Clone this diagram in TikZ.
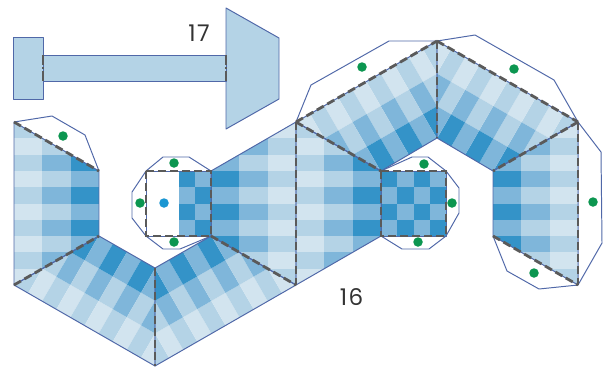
\documentclass[tikz,border=0pt]{standalone}
\usepackage{fontspec}
\setmainfont{Poppins}
\definecolor{cc0}{HTML}{D2E4EF}
\definecolor{cc1}{HTML}{B4D3E6}
\definecolor{cc2}{HTML}{7FB6DA}
\definecolor{cc3}{HTML}{3493C8}
\definecolor{edgeblue}{HTML}{5068A8}
\definecolor{foldgray}{HTML}{5A5A5A}
\definecolor{dotgreen}{HTML}{0C9650}
\definecolor{dotblue}{HTML}{1A96D2}
\tikzset{
  outline/.style={draw=edgeblue,line width=0.98pt,line join=round},
  fold/.style={draw=foldgray,line width=2.8pt,dash pattern=on 8pt off 4pt},
  shortfold/.style={draw=foldgray,line width=2.2pt,dash pattern=on 10pt off 2pt on 2pt off 2pt on 10pt},
  gluedot/.style={circle,fill=dotgreen,inner sep=0pt,minimum size=9.5pt},
  centerdot/.style={circle,fill=dotblue,inner sep=0pt,minimum size=9.5pt},
  numlabel/.style={inner sep=0pt,text=black!80,font=\fontsize{23}{26}\selectfont\addfontfeatures{LetterSpace=6}}
}
% origin x,y ; column vector ; row vector
\newcommand{\facegrid}[6]{%
  \foreach \i in {0,1,2} \foreach \j in {0,...,9} {%
    \pgfmathtruncatemacro{\cv}{\i+(isodd(\j)?0:1)}%
    \fill[fill=cc\cv,shift={(#1,#2)},x={(#3pt,#4pt)},y={(#5pt,#6pt)}]
      (\i,\j)--(\i+1,\j)--(\i+1,\j+1)--(\i,\j+1)--cycle;
  }%
}
\begin{document}
\begin{tikzpicture}[yscale=-1,x=1pt,y=1pt]
\useasboundingbox (0,0) rectangle (604,370);
% vertices
\coordinate (A) at (14,122);
\coordinate (B) at (99,171);
\coordinate (C) at (99,236);
\coordinate (D) at (14,285);
\coordinate (E) at (155,268);
\coordinate (F) at (155,366);
\coordinate (G1) at (211,171);
\coordinate (G) at (211,236);
\coordinate (H) at (296,285);
\coordinate (I) at (296,122);
\coordinate (J) at (381,171);
\coordinate (K) at (381,236);
\coordinate (L) at (437,41);
\coordinate (M) at (437,138);
\coordinate (N) at (578,122);
\coordinate (O) at (493,171);
\coordinate (P) at (493,236);
\coordinate (Q) at (578,285);
\coordinate (S1a) at (146,171);
\coordinate (S1b) at (146,236);
\coordinate (S2a) at (446,171);
\coordinate (S2b) at (446,236);
% glue flaps
\draw[outline] (A)--(52,116)--(85,135)--(B);
\draw[outline] (S1a)--(163,157)--(189,157)--(G1);
\draw[outline] (S1a)--(132,192)--(132,218)--(S1b);
\draw[outline] (S1b)--(163,249)--(180,249)--(G);
\draw[outline] (I)--(311,85)--(389,41)--(L);
\draw[outline] (J)--(412,157)--(428,157)--(S2a);
\draw[outline] (S2a)--(459,188)--(459,213)--(S2b);
\draw[outline] (K)--(402,249)--(429,249)--(S2b);
\draw[outline] (L)--(475,35)--(554,80)--(N);
\draw[outline] (N)--(601,152)--(602,243)--(Q);
\draw[outline] (P)--(507,271)--(539,289)--(Q);
% faces
\begin{scope}\clip (A)--(B)--(C)--(D)--cycle; \facegrid{14}{122}{28.33}{0}{0}{16.3}\end{scope}
\begin{scope}\clip (D)--(C)--(E)--(F)--cycle; \facegrid{14}{285}{14.17}{-24.53}{14.1}{8.1}\end{scope}
\begin{scope}\clip (F)--(E)--(G)--(H)--cycle; \facegrid{155}{366}{-14.17}{-24.53}{14.1}{-8.1}\end{scope}
\begin{scope}\clip (G1)--(G)--(H)--(I)--cycle; \facegrid{296}{285}{-28.33}{0}{0}{-16.3}\end{scope}
\begin{scope}\clip (I)--(J)--(K)--(H)--cycle; \facegrid{296}{122}{28.33}{0}{0}{16.3}\end{scope}
\begin{scope}\clip (I)--(L)--(M)--(J)--cycle; \facegrid{437}{41}{14.17}{24.53}{-14.1}{8.1}\end{scope}
\begin{scope}\clip (L)--(N)--(O)--(M)--cycle; \facegrid{578}{122}{-14.17}{24.53}{-14.1}{-8.1}\end{scope}
\begin{scope}\clip (N)--(O)--(P)--(Q)--cycle; \facegrid{578}{285}{-28.33}{0}{0}{-16.3}\end{scope}
% square 1 (half coloured)
\foreach \j in {0,1,2,3} {
  \pgfmathtruncatemacro{\ca}{isodd(\j)?2:3}
  \pgfmathtruncatemacro{\cb}{isodd(\j)?3:2}
  \fill[cc\ca] (179,171+16.25*\j) rectangle (195,171+16.25*\j+16.25);
  \fill[cc\cb] (195,171+16.25*\j) rectangle (211,171+16.25*\j+16.25);
}
% square 2 (checker)
\foreach \i in {0,1,2,3} \foreach \j in {0,1,2,3} {
  \pgfmathtruncatemacro{\cc}{isodd(\i+\j)?2:3}
  \fill[cc\cc] (381+16.25*\i,171+16.25*\j) rectangle (381+16.25*\i+16.25,171+16.25*\j+16.25);
}
% face outlines
\draw[outline] (A)--(B)--(C)--(D)--cycle;
\draw[outline] (D)--(C)--(E)--(F)--cycle;
\draw[outline] (F)--(E)--(G)--(H)--cycle;
\draw[outline] (G1)--(G)--(H)--(I)--cycle;
\draw[outline] (I)--(J)--(K)--(H)--cycle;
\draw[outline] (I)--(L)--(M)--(J)--cycle;
\draw[outline] (L)--(N)--(O)--(M)--cycle;
\draw[outline] (N)--(O)--(P)--(Q)--cycle;
\draw[outline] (S1a)--(G1)--(G)--(S1b)--cycle;
\draw[outline] (J)--(S2a)--(S2b)--(K)--cycle;
% fold lines
\draw[fold] (A)--(B);
\draw[fold] (D)--(C);
\draw[fold] (E)--(F);
\draw[fold] (G)--(H);
\draw[fold] (S1a)--(G1)--(G)--(S1b)--cycle;
\draw[fold] (I)--(H);
\draw[fold] (I)--(J);
\draw[fold] (I)--(L);
\draw[fold] (L)--(M);
\draw[fold] (J)--(S2a)--(S2b)--(K)--cycle;
\draw[fold] (L)--(N);
\draw[fold] (N)--(O);
\draw[fold] (N)--(Q);
\draw[fold] (P)--(Q);
% top piece
\coordinate (Ra) at (43,55);
\coordinate (Rb) at (43,81);
\coordinate (Rc) at (226,55);
\coordinate (Rd) at (226,81);
\draw[outline,fill=cc1] (13,37) rectangle (43,99);
\draw[outline,fill=cc1] (226,8)--(279,38)--(279,99)--(226,129)--cycle;
\draw[outline,fill=cc1] (Ra)--(Rc)--(Rd)--(Rb)--cycle;
\draw[shortfold] (Ra)--(Rb);
\draw[shortfold] (Rc)--(Rd);
% dots
\node[gluedot] (d1) at (63,136) {};
\node[gluedot] (d2) at (174,163) {};
\node[gluedot] (d3) at (140,203) {};
\node[gluedot] (d4) at (174,242) {};
\node[centerdot] (d5) at (164,203) {};
\node[gluedot] (d6) at (362,67) {};
\node[gluedot] (d7) at (424,164) {};
\node[gluedot] (d8) at (452,203) {};
\node[gluedot] (d9) at (418,242) {};
\node[gluedot] (d10) at (514,69) {};
\node[gluedot] (d11) at (593,202) {};
\node[gluedot] (d12) at (534,273) {};
% labels
\node[numlabel] (n17) at (199,33) {17};
\node[numlabel] (n16) at (351.5,297) {16};
\end{tikzpicture}
\end{document}
